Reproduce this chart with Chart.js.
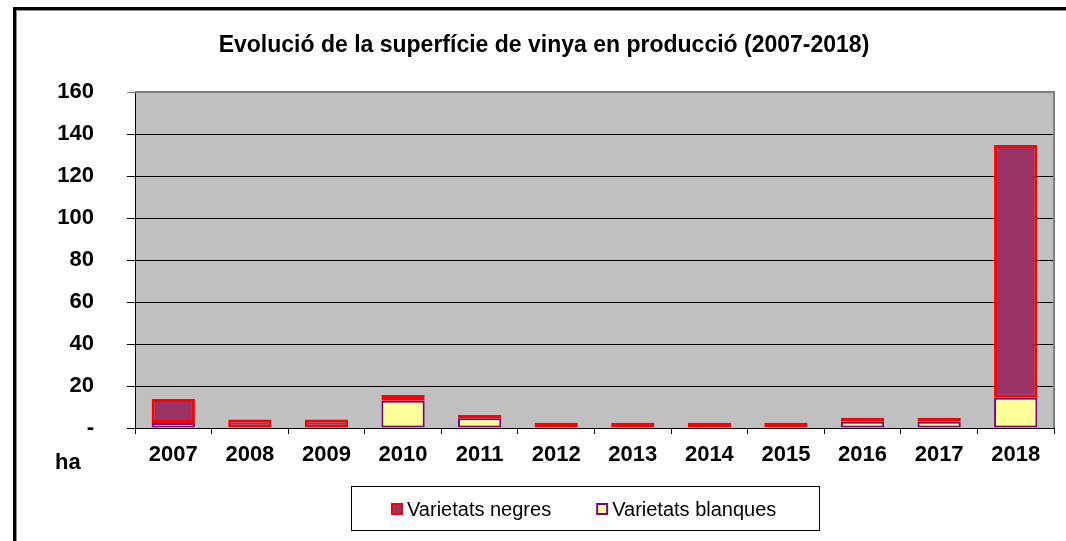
<!DOCTYPE html>
<html>
<head>
<meta charset="utf-8">
<script src="https://cdn.jsdelivr.net/npm/chart.js@4/dist/chart.umd.min.js"></script>
<style>
  html, body { margin: 0; padding: 0; background: #fff; }
  #wrap { width: 1066px; height: 541px; }
</style>
</head>
<body>
<div id="wrap"><canvas id="chart" width="1066" height="541"></canvas></div>
<script>
// data (ha)
const years = ['2007', '2008', '2009', '2010', '2011', '2012', '2013', '2014', '2015', '2016', '2017', '2018'];
const negres = [11.4, 4, 4, 2.7, 1.5, 2.5, 2.5, 2.5, 2.5, 1.9, 1.9, 120.4];
const blanques = [2.4, 0, 0, 13, 4.7, 0, 0, 0, 0, 3, 3, 14.4];
const yTicks = [0, 20, 40, 60, 80, 100, 120, 140, 160];

const titleText = 'Evolució de la superfície de vinya en producció (2007-2018)';
const unitText = 'ha';
const FONT = '"Liberation Sans", Arial, sans-serif';

// background, frame, title, unit label and legend box
const decor = {
    id: 'decor',
    beforeDraw(chart) {
        const { ctx, chartArea: a } = chart;
        ctx.save();
        ctx.fillStyle = '#c0c0c0';
        ctx.fillRect(a.left, a.top, a.right - a.left, a.bottom - a.top);
        ctx.restore();
    },
    afterDraw(chart) {
        const { ctx, chartArea: a } = chart;
        ctx.save();

        // plot border (grey top/right)
        ctx.strokeStyle = '#808080';
        ctx.lineWidth = 2;
        ctx.beginPath();
        ctx.moveTo(a.left, a.top);
        ctx.lineTo(a.right, a.top);
        ctx.lineTo(a.right, a.bottom);
        ctx.stroke();

        // outer frame
        ctx.fillStyle = '#000';
        ctx.fillRect(13, 7, 3, 541);
        ctx.fillRect(13, 7, 1066, 3);
        ctx.fillStyle = '#8c8c8c';
        ctx.fillRect(16, 10, 1, 541);
        ctx.fillRect(16, 10, 1066, 1);

        // title
        ctx.fillStyle = '#000';
        ctx.font = 'bold 23px ' + FONT;
        ctx.textAlign = 'center';
        ctx.textBaseline = 'middle';
        ctx.fillText(titleText, 544, 46);

        // unit
        ctx.textAlign = 'left';
        ctx.font = 'bold 22px ' + FONT;
        ctx.fillText(unitText, 55, 463);

        // legend
        ctx.strokeStyle = '#000';
        ctx.lineWidth = 1;
        ctx.strokeRect(351.5, 486.5, 468, 44);
        ctx.font = '20px ' + FONT;
        ctx.textBaseline = 'middle';
        const ds = chart.data.datasets.slice().reverse();
        let x = 391;
        const yMid = 509;
        ds.forEach(d => {
            ctx.fillStyle = d.borderColor;
            ctx.fillRect(x, yMid - 6, 12, 12);
            ctx.fillStyle = d.backgroundColor;
            ctx.fillRect(x + 2, yMid - 4, 8, 8);
            ctx.fillStyle = '#000';
            ctx.fillText(d.label, x + 16, yMid + 1);
            x += 16 + ctx.measureText(d.label).width + 45;
        });
        ctx.restore();
    }
};

new Chart(document.getElementById('chart'), {
    type: 'bar',
    data: {
        labels: years,
        datasets: [
            {
                label: 'Varietats blanques',
                data: blanques,
                backgroundColor: '#ffff99',
                borderColor: '#800080',
                borderWidth: 2,
                borderSkipped: false,
            },
            {
                label: 'Varietats negres',
                data: negres,
                backgroundColor: '#993366',
                borderColor: '#ff0000',
                borderWidth: 3,
                borderSkipped: false,
            },
        ],
    },
    options: {
        responsive: false,
        devicePixelRatio: 1,
        animation: false,
        layout: { padding: { top: 92, right: 12, bottom: 0, left: 0 } },
        datasets: { bar: { barPercentage: 0.565, categoryPercentage: 1 } },
        plugins: {
            legend: { display: false },
            title: { display: false },
            tooltip: { enabled: false },
        },
        scales: {
            x: {
                stacked: true,
                afterFit: s => { s.height = 113; },
                grid: {
                    offset: true,
                    drawOnChartArea: false,
                    color: '#000',
                    tickLength: 6,
                },
                border: { color: '#000', width: 1 },
                ticks: {
                    color: '#000',
                    padding: 8,
                    maxRotation: 0,
                    font: { family: FONT, size: 22, weight: 'bold' },
                },
            },
            y: {
                stacked: true,
                min: 0,
                max: 160,
                afterFit: s => { s.width = 135; },
                afterBuildTicks: s => { s.ticks = yTicks.map(v => ({ value: v })); },
                grid: {
                    color: ctx => (ctx.tick && ctx.tick.value === 160 ? '#808080' : '#000'),
                    lineWidth: 1,
                    tickLength: 8,
                },
                border: { color: '#000', width: 1 },
                ticks: {
                    color: '#000',
                    padding: 33,
                    font: { family: FONT, size: 22, weight: 'bold' },
                    callback: v => (v === 0 ? '-' : v),
                },
            },
        },
    },
    plugins: [decor],
});
</script>
</body>
</html>
